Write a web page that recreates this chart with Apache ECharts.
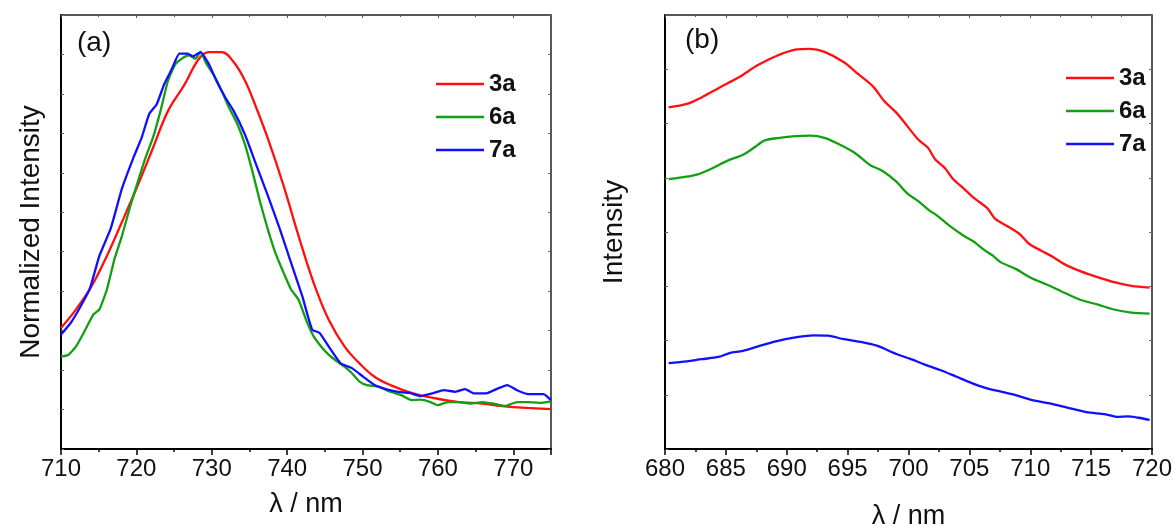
<!DOCTYPE html>
<html>
<head>
<meta charset="utf-8">
<script src="https://cdn.jsdelivr.net/npm/echarts@6/dist/echarts.min.js"></script>
<style>
html,body{margin:0;padding:0;background:#fff;}
#chart{width:1175px;height:526px;}
</style>
</head>
<body>
<div id="chart"></div>
<script>
// ---------- Panel (a): normalized emission spectra ----------
const xTicksA = [710, 720, 730, 740, 750, 760, 770];
const a_3a = [[710,0.307],[712.0,0.354],[714.1,0.414],[716.1,0.490],[718.1,0.576],[720.2,0.669],[722.2,0.763],[724.2,0.857],[726.3,0.921],[728.3,0.989],[729.6,1.006],[731.3,1.006],[732.9,0.981],[734.4,0.934],[735.9,0.865],[737.4,0.789],[739.5,0.669],[741.5,0.541],[743.5,0.422],[745.5,0.328],[747.6,0.260],[749.6,0.217],[751.6,0.183],[753.7,0.162],[756.7,0.141],[759.8,0.128],[762.8,0.119],[765.9,0.115],[768.9,0.108],[772.0,0.104],[775,0.101]];
const a_6a = [[710,0.234],[711.0,0.239],[712.0,0.260],[713.0,0.294],[714.3,0.341],[715.1,0.354],[716.1,0.405],[717.1,0.482],[718.1,0.541],[719.1,0.610],[720.2,0.678],[721.2,0.738],[722.2,0.789],[723.2,0.857],[724.2,0.934],[725.2,0.976],[726.3,0.993],[727.0,0.998],[727.8,0.989],[728.5,1.006],[729.3,0.976],[730.3,0.947],[731.3,0.908],[732.3,0.865],[733.4,0.823],[734.4,0.772],[735.4,0.703],[736.4,0.627],[737.4,0.559],[738.4,0.499],[739.5,0.448],[740.5,0.405],[741.5,0.379],[742.5,0.328],[743.5,0.286],[744.5,0.260],[745.5,0.239],[746.6,0.222],[747.6,0.209],[748.6,0.192],[749.6,0.171],[750.6,0.162],[752.1,0.158],[753.7,0.145],[755.2,0.136],[756.5,0.124],[757.7,0.125],[759.0,0.119],[760.0,0.111],[761.3,0.119],[762.8,0.119],[764.3,0.115],[765.9,0.119],[767.4,0.115],[768.9,0.109],[770.5,0.119],[772.0,0.119],[773.5,0.117],[775,0.121]];
const a_7a = [[710,0.290],[711.3,0.320],[712.5,0.358],[713.8,0.405],[715.1,0.490],[716.6,0.559],[718.1,0.661],[719.6,0.738],[720.7,0.789],[721.7,0.849],[722.7,0.874],[723.7,0.925],[724.7,0.963],[725.7,1.002],[726.8,1.002],[727.5,0.995],[728.5,1.006],[729.6,0.976],[730.6,0.934],[731.8,0.891],[732.9,0.857],[734.4,0.797],[735.9,0.720],[737.4,0.644],[739.0,0.559],[740.5,0.473],[742.0,0.388],[743.3,0.303],[744.3,0.294],[745.5,0.260],[747.1,0.217],[748.6,0.205],[750.1,0.183],[751.6,0.162],[753.2,0.151],[754.7,0.145],[756.2,0.142],[757.7,0.134],[759.3,0.141],[760.8,0.149],[762.3,0.145],[763.6,0.152],[764.8,0.141],[766.4,0.141],[767.9,0.153],[769.2,0.162],[770.5,0.149],[772.0,0.139],[774.0,0.139],[775,0.124]];

// ---------- Panel (b): emission intensity ----------
const xTicksB = [680, 685, 690, 695, 700, 705, 710, 715, 720];
const b_3a = [[680.3,78.7],[681.8,79.5],[683.0,81.0],[684.5,83.3],[686.1,85.7],[687.6,88.4],[689.1,90.5],[690.7,92.0],[691.9,92.2],[693.1,91.5],[694.7,89.1],[695.9,86.3],[697.1,83.5],[698.0,80.2],[699.0,77.5],[699.9,74.4],[700.8,71.3],[701.6,69.4],[702.2,66.7],[703.0,64.7],[703.6,62.4],[704.5,60.1],[705.4,57.8],[706.5,55.4],[707.1,53.1],[708.2,51.2],[709.1,49.6],[709.9,47.3],[710.9,45.7],[711.9,44.2],[712.8,42.6],[714.0,41.1],[715.2,39.9],[716.8,38.5],[718.3,37.6],[719.8,37.2]];
const b_6a = [[680.3,62.2],[681.4,62.6],[682.7,63.3],[683.9,64.7],[685.1,66.4],[686.4,67.8],[687.3,69.4],[688.2,71.1],[689.4,71.7],[690.7,72.1],[691.9,72.2],[693.1,71.7],[694.3,70.2],[695.6,68.2],[696.8,65.5],[697.9,64.0],[699.0,61.6],[699.9,58.9],[700.8,57.1],[701.7,55.0],[702.3,53.9],[703.3,51.6],[704.5,49.2],[705.4,47.7],[706.3,45.7],[706.9,44.6],[707.6,43.0],[708.8,41.5],[710.0,39.5],[711.6,37.6],[712.5,36.4],[714.0,34.5],[715.5,33.3],[716.8,32.2],[718.3,31.4],[719.8,31.2]];
const b_7a = [[680.3,19.8],[681.8,20.2],[683.0,20.7],[684.4,21.2],[685.3,22.1],[686.4,22.6],[687.6,23.6],[689.1,24.8],[690.7,25.7],[692.2,26.2],[693.4,26.1],[694.7,25.3],[696.2,24.6],[697.4,23.8],[699.0,21.9],[700.2,20.7],[701.4,19.4],[702.6,18.2],[703.9,16.7],[705.1,15.3],[706.3,14.1],[707.6,13.2],[708.8,12.4],[710.0,11.4],[711.6,10.5],[713.1,9.5],[714.6,8.5],[716.2,8.0],[717.1,7.4],[718.0,7.5],[718.9,7.2],[719.8,6.7]];

const seriesNames = ['3a', '6a', '7a'];
const colors = { '3a': '#ff1010', '6a': '#12a012', '7a': '#1010ff' };

const FONT = '"Liberation Sans", Arial, sans-serif';

const chart = echarts.init(document.getElementById('chart'), null, { renderer: 'canvas' });

function bottomAxis(gridIndex, min, max, interval, nameGap) {
  return {
    type: 'value', gridIndex, min, max, interval, position: 'bottom',
    name: 'λ / nm', nameLocation: 'middle', nameGap,
    nameTextStyle: { fontFamily: FONT, fontSize: 27, color: '#111' },
    axisLine: { show: true, onZero: false, lineStyle: { color: '#000', width: 2 } },
    axisTick: { show: true, inside: false, length: 6, lineStyle: { color: '#000', width: 1.5 } },
    minorTick: { show: true, splitNumber: 2, length: 3, lineStyle: { color: '#000', width: 1.5 } },
    axisLabel: { show: true, fontFamily: FONT, fontSize: 24, color: '#111', margin: 8,
      formatter: v => String(v) },
    splitLine: { show: false }
  };
}
function topAxis(gridIndex, min, max, interval) {
  return {
    type: 'value', gridIndex, min, max, interval, position: 'top',
    axisLine: { show: true, onZero: false, lineStyle: { color: '#222', width: 1.5 } },
    axisTick: { show: true, inside: true, length: 3, lineStyle: { color: '#555', width: 1 } },
    minorTick: { show: true, splitNumber: 2, length: 2, lineStyle: { color: '#555', width: 1 } },
    axisLabel: { show: false }, splitLine: { show: false }
  };
}
function leftAxis(gridIndex, min, max, interval, name, nameGap) {
  return {
    type: 'value', gridIndex, min, max, interval, position: 'left',
    name, nameLocation: 'middle', nameGap, nameRotate: 90,
    nameTextStyle: { fontFamily: FONT, fontSize: 28, color: '#111' },
    axisLine: { show: true, onZero: false, lineStyle: { color: '#000', width: 2 } },
    axisTick: { show: true, inside: true, length: 3, lineStyle: { color: '#666', width: 1 } },
    axisLabel: { show: false }, splitLine: { show: false }
  };
}
function rightAxis(gridIndex, min, max, interval) {
  return {
    type: 'value', gridIndex, min, max, interval, position: 'right',
    axisLine: { show: true, onZero: false, lineStyle: { color: '#222', width: 1.5 } },
    axisTick: { show: true, inside: true, length: 3, lineStyle: { color: '#666', width: 1 } },
    axisLabel: { show: false }, splitLine: { show: false }
  };
}

const panelA = { '3a': a_3a, '6a': a_6a, '7a': a_7a };
const panelB = { '3a': b_3a, '6a': b_6a, '7a': b_7a };

const series = [];
seriesNames.forEach(n => {
  series.push({
    name: n, type: 'line', xAxisIndex: 0, yAxisIndex: 0, data: panelA[n],
    showSymbol: false, smooth: n === '3a' ? 0.4 : 0.15,
    lineStyle: { color: colors[n], width: 2.3 }, itemStyle: { color: colors[n] },
    z: n === '3a' ? 2 : (n === '6a' ? 3 : 4)
  });
});
seriesNames.forEach(n => {
  series.push({
    name: n, type: 'line', xAxisIndex: 2, yAxisIndex: 2, data: panelB[n],
    showSymbol: false, smooth: 0.3,
    lineStyle: { color: colors[n], width: 2.3 }, itemStyle: { color: colors[n] }
  });
});

const legendCommon = {
  orient: 'vertical', icon: 'rect', itemWidth: 48, itemHeight: 2.5, itemGap: 9,
  data: seriesNames, selectedMode: false,
  textStyle: { fontFamily: FONT, fontSize: 24, fontWeight: 'bold', color: '#111', lineHeight: 24, padding: [0, 0, 0, 0] },
  padding: 0
};

chart.setOption({
  animation: false,
  backgroundColor: '#fff',
  grid: [
    { left: 61, top: 15, width: 490, height: 434, containLabel: false, outerBoundsMode: 'none' },
    { left: 665, top: 15, width: 487, height: 434, containLabel: false, outerBoundsMode: 'none' }
  ],
  xAxis: [
    bottomAxis(0, 710, 775, 10, 42),
    topAxis(0, 710, 775, 10),
    bottomAxis(1, 680, 720, 5, 54),
    topAxis(1, 680, 720, 5)
  ],
  yAxis: [
    leftAxis(0, 0, 1.1, 0.1, 'Normalized Intensity', 16),
    rightAxis(0, 0, 1.1, 0.1),
    leftAxis(1, 0, 100, 12.5, 'Intensity', 37),
    rightAxis(1, 0, 100, 12.5)
  ],
  legend: [
    Object.assign({}, legendCommon, { left: 436, top: 72 }),
    Object.assign({}, legendCommon, { left: 1066, top: 66 })
  ],
  graphic: [
    { type: 'text', left: 77, top: 29, style: { text: '(a)', font: '28px ' + FONT, fill: '#111' } },
    { type: 'text', left: 685, top: 26, style: { text: '(b)', font: '28px ' + FONT, fill: '#111' } }
  ],
  series
});
</script>
</body>
</html>
